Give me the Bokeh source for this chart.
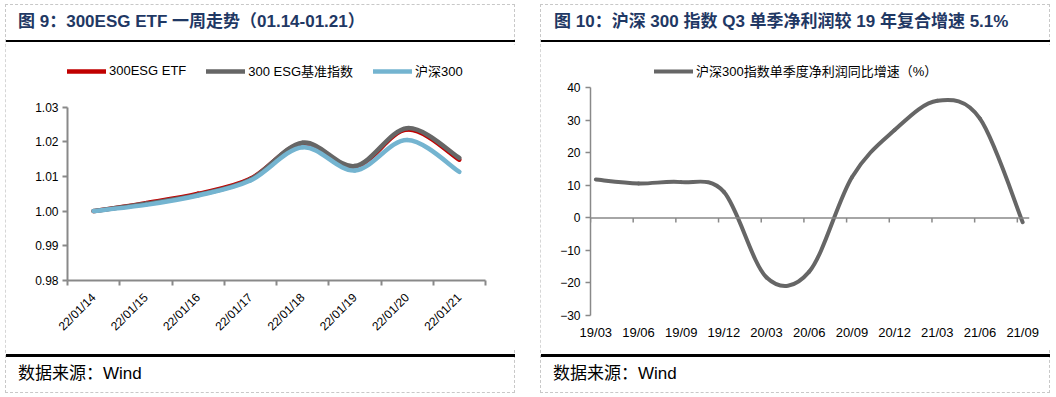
import numpy as np
from bokeh.plotting import figure
from bokeh.models import (Range1d, FixedTicker, LinearAxis, Legend, LegendItem, Span,
                          NumeralTickFormatter, ColumnDataSource, Spacer, Div)
from bokeh.layouts import row, column
from bokeh.embed import file_html
from bokeh.resources import INLINE

# ---------------- data ----------------
dates = ["22/01/14", "22/01/15", "22/01/16", "22/01/17", "22/01/18", "22/01/19", "22/01/20", "22/01/21"]
etf = [1.0000, 1.0023, 1.0050, 1.0093, 1.0195, 1.0127, 1.0235, 1.0148]
esg_index = [1.0000, 1.0021, 1.0047, 1.0091, 1.0197, 1.0130, 1.0239, 1.0153]
hs300 = [1.0000, 1.0018, 1.0045, 1.0088, 1.0184, 1.0117, 1.0205, 1.0113]
left_names = ["300ESG ETF", "300 ESG基准指数", "沪深300"]
left_ticks = [0.98, 0.99, 1.00, 1.01, 1.02, 1.03]

quarters = ["19/03", "19/06", "19/09", "19/12", "20/03", "20/06", "20/09", "20/12", "21/03", "21/06", "21/09"]
profit_growth = [11.8, 10.6, 11.0, 8.0, -18.3, -16.5, 12.5, 27.0, 36.0, 30.5, -1.3]
right_name = "沪深300指数单季度净利润同比增速（%）"
right_ticks = [-30, -20, -10, 0, 10, 20, 30, 40]

title_left = "图 9：300ESG ETF 一周走势（01.14-01.21）"
title_right = "图 10：沪深 300 指数 Q3 单季净利润较 19 年复合增速 5.1%"
source_text = "数据来源：Wind"

LAT = "Liberation Sans, Noto Sans CJK SC"
CSS_FONT = "'Liberation Sans', 'Noto Sans CJK SC', sans-serif"
AXIS_COLOR = "#898989"
TITLE_COLOR = "#1F3864"
BORDER = {"outline": "1px dashed #C8C8C8", "outline-offset": "-1px"}


def smooth_source(xs, ys):
    """Cubic Bezier segments through the data points (Excel-style smoothed line)."""
    xs = np.asarray(xs, float)
    ys = np.asarray(ys, float)
    n = len(xs)
    xp = np.concatenate([[xs[0]], xs, [xs[-1]]])
    yp = np.concatenate([[ys[0]], ys, [ys[-1]]])
    return ColumnDataSource(dict(
        x0=xs[:-1], y0=ys[:-1], x1=xs[1:], y1=ys[1:],
        cx0=xs[:-1] + (xp[2:n + 1] - xp[0:n - 1]) / 6.0,
        cy0=ys[:-1] + (yp[2:n + 1] - yp[0:n - 1]) / 6.0,
        cx1=xs[1:] - (xp[3:n + 2] - xp[1:n]) / 6.0,
        cy1=ys[1:] - (yp[3:n + 2] - yp[1:n]) / 6.0,
    ))


def header(W, title, tx):
    html = (f'<div style="position:relative;width:{W}px;height:40px;">'
            f'<div style="position:absolute;left:{tx}px;top:7.7px;font-family:{CSS_FONT};'
            f'font-size:17px;font-weight:bold;line-height:20px;white-space:nowrap;'
            f'color:{TITLE_COLOR};">{title}</div>'
            f'<div style="position:absolute;left:1px;width:{W - 1}px;top:35.5px;height:2.7px;'
            f'background:#000;"></div></div>')
    return Div(text=html, width=W, height=40, margin=0)


def footer(W, tx):
    html = (f'<div style="position:relative;width:{W}px;height:43px;">'
            f'<div style="position:absolute;left:1px;width:{W - 1}px;top:4px;height:2.6px;'
            f'background:#000;"></div>'
            f'<div style="position:absolute;left:{tx}px;top:14px;font-family:{CSS_FONT};'
            f'font-size:17px;line-height:20px;white-space:nowrap;color:#000;">{source_text}</div>'
            f'</div>')
    return Div(text=html, width=W, height=43, margin=0)


# ---------------- left chart ----------------
W1, H1 = 510, 306
# frame spans 225 px; the 0.98-1.03 axis occupies its lower 173.5 px, legend sits above
L_FRAME_H, L_AXIS_H = 225, 173.5
l_top = left_ticks[0] + (left_ticks[-1] - left_ticks[0]) * L_FRAME_H / L_AXIS_H
p1 = figure(width=W1, height=H1, x_range=Range1d(0, len(dates)),
            y_range=Range1d(left_ticks[0], l_top),
            output_backend="svg", toolbar_location=None, x_axis_location=None, y_axis_location=None,
            min_border_left=62, min_border_right=30, min_border_top=11, min_border_bottom=70,
            outline_line_color=None, background_fill_color="white", border_fill_color="white")
p1.grid.visible = False

yax = LinearAxis(ticker=FixedTicker(ticks=left_ticks), bounds=(left_ticks[0], left_ticks[-1]),
                 formatter=NumeralTickFormatter(format="0.00"),
                 axis_line_color=AXIS_COLOR, axis_line_width=2,
                 major_tick_line_color=AXIS_COLOR, major_tick_line_width=2,
                 major_tick_out=5, major_tick_in=0, minor_tick_line_color=None,
                 major_label_text_font="Liberation Sans", major_label_text_font_size="12px",
                 major_label_text_color="#000000", major_label_standoff=4)
p1.add_layout(yax, "left")

xc = np.arange(len(dates)) + 0.5
xb = np.arange(len(dates) + 1)
xax = LinearAxis(ticker=FixedTicker(ticks=list(xc), minor_ticks=list(xb)),
                 major_label_overrides={float(x): d for x, d in zip(xc, dates)},
                 axis_line_color=AXIS_COLOR, axis_line_width=2,
                 major_tick_line_color=None,
                 minor_tick_line_color=AXIS_COLOR, minor_tick_line_width=2,
                 minor_tick_out=5, minor_tick_in=0,
                 major_label_orientation=np.pi / 4, major_label_standoff=9,
                 major_label_text_font="Liberation Sans", major_label_text_font_size="12px",
                 major_label_text_color="#000000")
p1.add_layout(xax, "below")

colors = ["#C00000", "#666666", "#74B4D0"]
items = []
for series, name, col in zip([etf, esg_index, hs300], left_names, colors):
    r = p1.bezier(x0="x0", y0="y0", x1="x1", y1="y1", cx0="cx0", cy0="cy0", cx1="cx1", cy1="cy1",
                  source=smooth_source(xc, series), line_color=col, line_width=4.5, line_cap="round")
    items.append(LegendItem(label=name, renderers=[r]))

leg1 = Legend(items=items, orientation="horizontal", location=(0, 199.7),
              glyph_width=39, glyph_height=16, label_height=16, label_standoff=3, spacing=20,
              padding=0, margin=0, border_line_color=None, background_fill_alpha=0,
              label_text_font=LAT, label_text_font_size="13px", label_text_color="#000000")
p1.add_layout(leg1)

# ---------------- right chart ----------------
W2, H2 = 510, 306
R_FRAME_H, R_AXIS_H = 255, 227.7
r_top = right_ticks[0] + (right_ticks[-1] - right_ticks[0]) * R_FRAME_H / R_AXIS_H
p2 = figure(width=W2, height=H2, x_range=Range1d(-0.125, 10.16), y_range=Range1d(right_ticks[0], r_top),
            output_backend="svg", toolbar_location=None, x_axis_location=None, y_axis_location=None,
            min_border_left=50, min_border_right=21, min_border_top=16, min_border_bottom=35,
            outline_line_color=None, background_fill_color="white", border_fill_color="white")
p2.grid.visible = False

yax2 = LinearAxis(ticker=FixedTicker(ticks=right_ticks), bounds=(right_ticks[0], right_ticks[-1]),
                  axis_line_color=AXIS_COLOR, axis_line_width=1.5,
                  major_tick_line_color=AXIS_COLOR, major_tick_line_width=1.5,
                  major_tick_out=5, major_tick_in=0, minor_tick_line_color=None,
                  major_label_text_font="Liberation Sans", major_label_text_font_size="12px",
                  major_label_text_color="#000000", major_label_standoff=5)
p2.add_layout(yax2, "left")

xq = np.arange(len(quarters))
xax2 = LinearAxis(ticker=FixedTicker(ticks=list(xq)),
                  major_label_overrides={int(i): q for i, q in zip(xq, quarters)},
                  axis_line_color=None, major_tick_line_color=None, minor_tick_line_color=None,
                  major_label_standoff=3, major_label_text_font="Liberation Sans",
                  major_label_text_font_size="13px", major_label_text_color="#000000")
p2.add_layout(xax2, "below")

# zero line with its tick marks
p2.add_layout(Span(location=0, dimension="width", line_color=AXIS_COLOR, line_width=1.5))
tick_x = xq - 0.125
p2.segment(x0=tick_x, y0=np.zeros(len(tick_x)), x1=tick_x, y1=np.full(len(tick_x), -1.4),
           line_color=AXIS_COLOR, line_width=1.5)

r2 = p2.bezier(x0="x0", y0="y0", x1="x1", y1="y1", cx0="cx0", cy0="cy0", cx1="cx1", cy1="cy1",
               source=smooth_source(xq, profit_growth), line_color="#666666", line_width=4,
               line_cap="round")
leg2 = Legend(items=[LegendItem(label=right_name, renderers=[r2])], orientation="horizontal",
              location=(64, 234.7), glyph_width=39, glyph_height=16, label_height=16, label_standoff=3,
              padding=0, margin=0, border_line_color=None, background_fill_alpha=0,
              label_text_font=LAT, label_text_font_size="13px", label_text_color="#000000")
p2.add_layout(leg2)

left_panel = column(header(W1, title_left, 13), p1, footer(W1, 13), styles=BORDER)
right_panel = column(header(W2, title_right, 14), p2, footer(W2, 13), styles=BORDER)

layout = column(Spacer(height=4),
                row(Spacer(width=5), left_panel, Spacer(width=25), right_panel))
open("out.html", "w").write(file_html(layout, INLINE))
